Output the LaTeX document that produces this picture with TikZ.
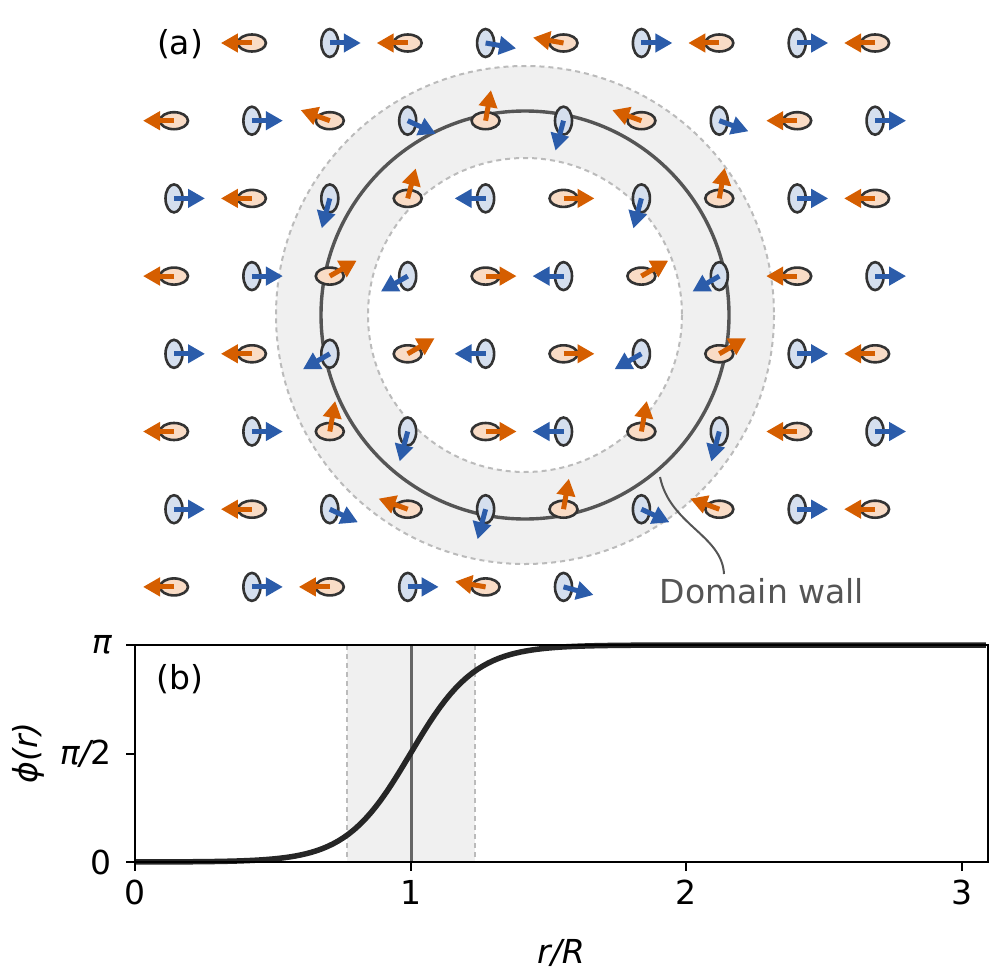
\documentclass[tikz,border=0pt]{standalone}
\usepackage{fontspec}
\setmainfont{DejaVu Sans}
\usetikzlibrary{arrows.meta}
\definecolor{orA}{HTML}{D55E00}
\definecolor{orL}{HTML}{F9DCC6}
\definecolor{blA}{HTML}{2B5CAA}
\definecolor{blL}{HTML}{D5DFEE}
\definecolor{edg}{HTML}{333333}
\definecolor{shadec}{HTML}{F0F0F0}
\definecolor{dgray}{HTML}{BBBBBB}
\definecolor{wallc}{HTML}{555555}
\tikzset{
  site/.style={draw=edg, line width=2.6pt},
  spin/.style={line width=5pt, -{Triangle[length=17pt,width=18pt]}},
  lbl/.style={font=\fontsize{33}{38}\selectfont, inner sep=0pt},
  bnd/.style={dgray, line width=2pt, dash pattern=on 5pt off 4pt},
}
\newcommand\mysetang[3]{\expandafter\def\csname myang-#1-#2\endcsname{#3}}
\mysetang{4}{0}{170}\mysetang{5}{0}{170}
\mysetang{2}{1}{160}\mysetang{3}{1}{155}\mysetang{4}{1}{80}\mysetang{5}{1}{75}\mysetang{6}{1}{160}\mysetang{7}{1}{160}
\mysetang{2}{2}{75}\mysetang{3}{2}{75}\mysetang{4}{2}{0}\mysetang{5}{2}{0}\mysetang{6}{2}{75}\mysetang{7}{2}{80}
\mysetang{2}{3}{30}\mysetang{3}{3}{30}\mysetang{6}{3}{30}\mysetang{7}{3}{30}
\mysetang{2}{4}{30}\mysetang{3}{4}{30}\mysetang{6}{4}{30}\mysetang{7}{4}{30}
\mysetang{2}{5}{80}\mysetang{3}{5}{75}\mysetang{6}{5}{80}\mysetang{7}{5}{75}
\mysetang{2}{6}{155}\mysetang{3}{6}{160}\mysetang{4}{6}{75}\mysetang{5}{6}{80}\mysetang{6}{6}{155}\mysetang{7}{6}{160}
\mysetang{4}{7}{170}\mysetang{5}{7}{165}
\begin{document}
\begin{tikzpicture}[x=1pt,y=-1pt]
\useasboundingbox (0,0) rectangle (995,979);
% panel (a)
\coordinate (c) at (525,315);
\fill[shadec, even odd rule] (c) circle (249) (c) circle (157);
\draw[bnd] (c) circle (249);
\draw[bnd] (c) circle (157);
\draw[wallc, line width=3.4pt] (c) circle (204);
\foreach \j in {0,...,7}{\foreach \i in {0,...,9}{
  \pgfmathtruncatemacro\skp{and(\i==0,\j==0)+and(\j==7,\i>5)}
  \ifnum\skp=0
    \pgfmathsetmacro\px{174+77.9*\i}
    \pgfmathsetmacro\py{43+77.7*\j}
    \pgfmathsetmacro\rr{sqrt(((\px-525)/204)^2+((\py-315)/204)^2)}
    \pgfmathsetmacro\ph{\rr<1 ? 0 : 180}
    \ifcsname myang-\i-\j\endcsname
      \edef\ph{\csname myang-\i-\j\endcsname}
    \fi
    \pgfmathtruncatemacro\typ{mod(\i+\j,2)}
    \ifnum\typ=1
      \draw[site, fill=orL] (\px,\py) ellipse (14 and 8.5);
      \draw[spin, orA] (\px,\py) -- ++(-\ph:31);
    \else
      \draw[site, fill=blL] (\px,\py) ellipse (8.5 and 14);
      \draw[spin, blA] (\px,\py) -- ++(-\ph-180:31);
    \fi
  \fi
}}
\node[lbl, anchor=center] (la) at (180,44) {(a)};
\coordinate (w1) at (660,477);
\coordinate (w2) at (724,574);
\draw[wallc, line width=2pt] (w1) .. controls (670,525) and (722,535) .. (w2);
\node[lbl, text=wallc] (dw) at (762,591) {Domain wall};
% panel (b)
\fill[shadec] (347,645) rectangle (475,862);
\draw[bnd] (347,645) -- (347,862);
\draw[bnd] (475,645) -- (475,862);
\draw[wallc!90, line width=3pt] (411,645) -- (411,862);
\draw[black!85, line width=5.5pt] plot[domain=0:3.09, samples=160] ({135+275.5*\x}, {862-217*0.5*(1+tanh((\x-1)/0.235))});
\draw[black, line width=2.2pt] (135,645) rectangle (988,862);
\foreach \v/\t [count=\k] in {0/0,1/1,2/2,3/3}{
  \draw[black, line width=2pt] ({135+275.5*\v},862) -- ++(0,9);
  \node[lbl, anchor=north] (xt\k) at ({135+275.5*\v},880) {\t};
}
\foreach \yy/\t [count=\k] in {862/0,753.5/{\itshape π/}2,645/\itshape π}{
  \draw[black, line width=2pt] (135,\yy) -- ++(-9,0);
  \node[lbl, anchor=east] (yt\k) at (112,\yy) {\t};
}
\node[lbl] (xl) at (561,953) {\itshape r/R};
\node[lbl, rotate=90] (yl) at (28,753) {\itshape ϕ(r)};
\node[lbl] (lb) at (180,679) {(b)};
\end{tikzpicture}
\end{document}
